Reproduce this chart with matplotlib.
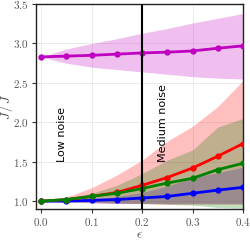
import numpy as np
import matplotlib
matplotlib.use('Agg')
import matplotlib.pyplot as plt
from matplotlib.ticker import FuncFormatter

plt.rcParams['mathtext.fontset'] = 'cm'

eps = [0.0, 0.05, 0.1, 0.15, 0.2, 0.25, 0.3, 0.35, 0.4]

mag_mean = [2.83, 2.84, 2.85, 2.865, 2.88, 2.89, 2.905, 2.94, 2.97]
mag_low = [2.83, 2.75, 2.70, 2.67, 2.64, 2.61, 2.58, 2.56, 2.55]
mag_high = [2.83, 2.93, 3.00, 3.06, 3.13, 3.19, 3.26, 3.32, 3.38]

red_mean = [1.0, 1.02, 1.06, 1.11, 1.20, 1.30, 1.42, 1.57, 1.73]
red_low = [1.0, 0.99, 0.98, 0.97, 0.97, 0.96, 0.96, 0.96, 0.96]
red_high = [1.0, 1.05, 1.17, 1.33, 1.52, 1.76, 1.95, 2.20, 2.53]

green_mean = [1.0, 1.02, 1.06, 1.10, 1.16, 1.23, 1.29, 1.40, 1.48]
green_low = [1.0, 1.0, 0.99, 0.98, 0.97, 0.96, 0.95, 0.92, 0.91]
green_high = [1.0, 1.04, 1.10, 1.20, 1.35, 1.52, 1.65, 1.94, 2.05]

blue_mean = [1.0, 1.0, 1.01, 1.02, 1.04, 1.06, 1.10, 1.14, 1.175]
blue_low = [1.0, 0.99, 0.98, 0.97, 0.97, 0.97, 0.97, 0.97, 0.97]
blue_high = [1.0, 1.01, 1.03, 1.06, 1.11, 1.19, 1.30, 1.36, 1.43]

series = [
    (mag_mean, mag_low, mag_high, '#c000c0'),
    (blue_mean, blue_low, blue_high, 'blue'),
    (red_mean, red_low, red_high, 'red'),
    (green_mean, green_low, green_high, 'green'),
]

fig = plt.figure(figsize=(2.5, 2.4), dpi=100)
ax = fig.add_axes([0.144, 0.129, 0.828, 0.854])

for mean, low, high, c in series:
    ax.fill_between(eps, low, high, color=c, alpha=0.25, lw=0)
for mean, low, high, c in series:
    ax.plot(eps, mean, '-o', color=c, lw=2, ms=3.5, zorder=3)

ax.axvline(0.2, color='black', lw=1.5, zorder=4)
ax.text(0.042, 1.5, 'Low noise', rotation=90, ha='center', va='bottom', fontsize=8)
ax.text(0.242, 1.5, 'Medium noise', rotation=90, ha='center', va='bottom', fontsize=8)

ax.set_xlim(-0.01, 0.4)
ax.set_ylim(0.9, 3.5)
ax.set_xticks([0.0, 0.1, 0.2, 0.3, 0.4])
ax.set_yticks([1.0, 1.5, 2.0, 2.5, 3.0, 3.5])
fmt = FuncFormatter(lambda v, p: '$%.1f$' % v)
ax.xaxis.set_major_formatter(fmt)
ax.yaxis.set_major_formatter(fmt)
ax.tick_params(labelsize=8, length=3, width=0.8, pad=2, colors='#333333', labelcolor='#555555')
ax.grid(True, color='#e8e8e8', lw=0.6)
ax.set_axisbelow(True)
for s in ax.spines.values():
    s.set_color('#222222')
    s.set_linewidth(1.0)

ax.set_xlabel(r'$\epsilon$', fontsize=9, color='#444444')
ax.set_ylabel(r'$J\,/\,\bar{J}$', fontsize=9, color='#444444')
ax.xaxis.set_label_coords(0.5, -0.095)
ax.yaxis.set_label_coords(-0.103, 0.5)

fig.savefig('out.png', dpi=100)
